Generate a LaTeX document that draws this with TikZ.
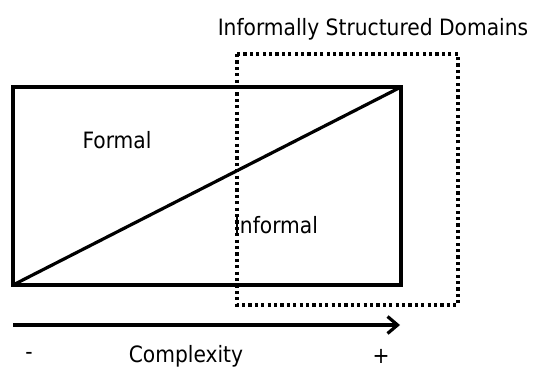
\documentclass[tikz,border=0pt]{standalone}
\usepackage{fontspec}
\setmainfont{DejaVu Sans Condensed}
\usetikzlibrary{arrows.meta}
\begin{document}
\begin{tikzpicture}[x=1pt,y=-1pt,
  solidline/.style={line width=3.2pt},
  dotline/.style={line width=3.4pt,dash pattern=on 3.2pt off 3.2pt},
  lbl/.style={inner sep=0pt,font=\fontsize{22.5}{26}\selectfont}]
\useasboundingbox (0,0) rectangle (534,372);
% main region split by the diagonal
\coordinate (bl) at (13,285);
\coordinate (tr) at (401,87);
\draw[solidline] (bl) rectangle (tr);
\draw[solidline] (bl) -- (tr);
% informally structured domains
\coordinate (dtl) at (237,54);
\coordinate (dbr) at (458,305);
\draw[dotline] (dtl) rectangle (dbr);
\node[lbl] (title) at (373,29) {Informally Structured Domains};
\node[lbl] (formal) at (117,140) {Formal};
\node[lbl] (informal) at (276,225) {Informal};
% complexity axis
\coordinate (a0) at (13,325);
\coordinate (a1) at (400,325);
\draw[solidline,-{Straight Barb[length=10pt,width=17pt,line width=3.2pt]}] (a0) -- (a1);
\node[lbl] (minus) at (29,356) {-};
\node[lbl] (cplx) at (186,356) {Complexity};
\node[lbl] (plus) at (381,356) {+};
\end{tikzpicture}
\end{document}
